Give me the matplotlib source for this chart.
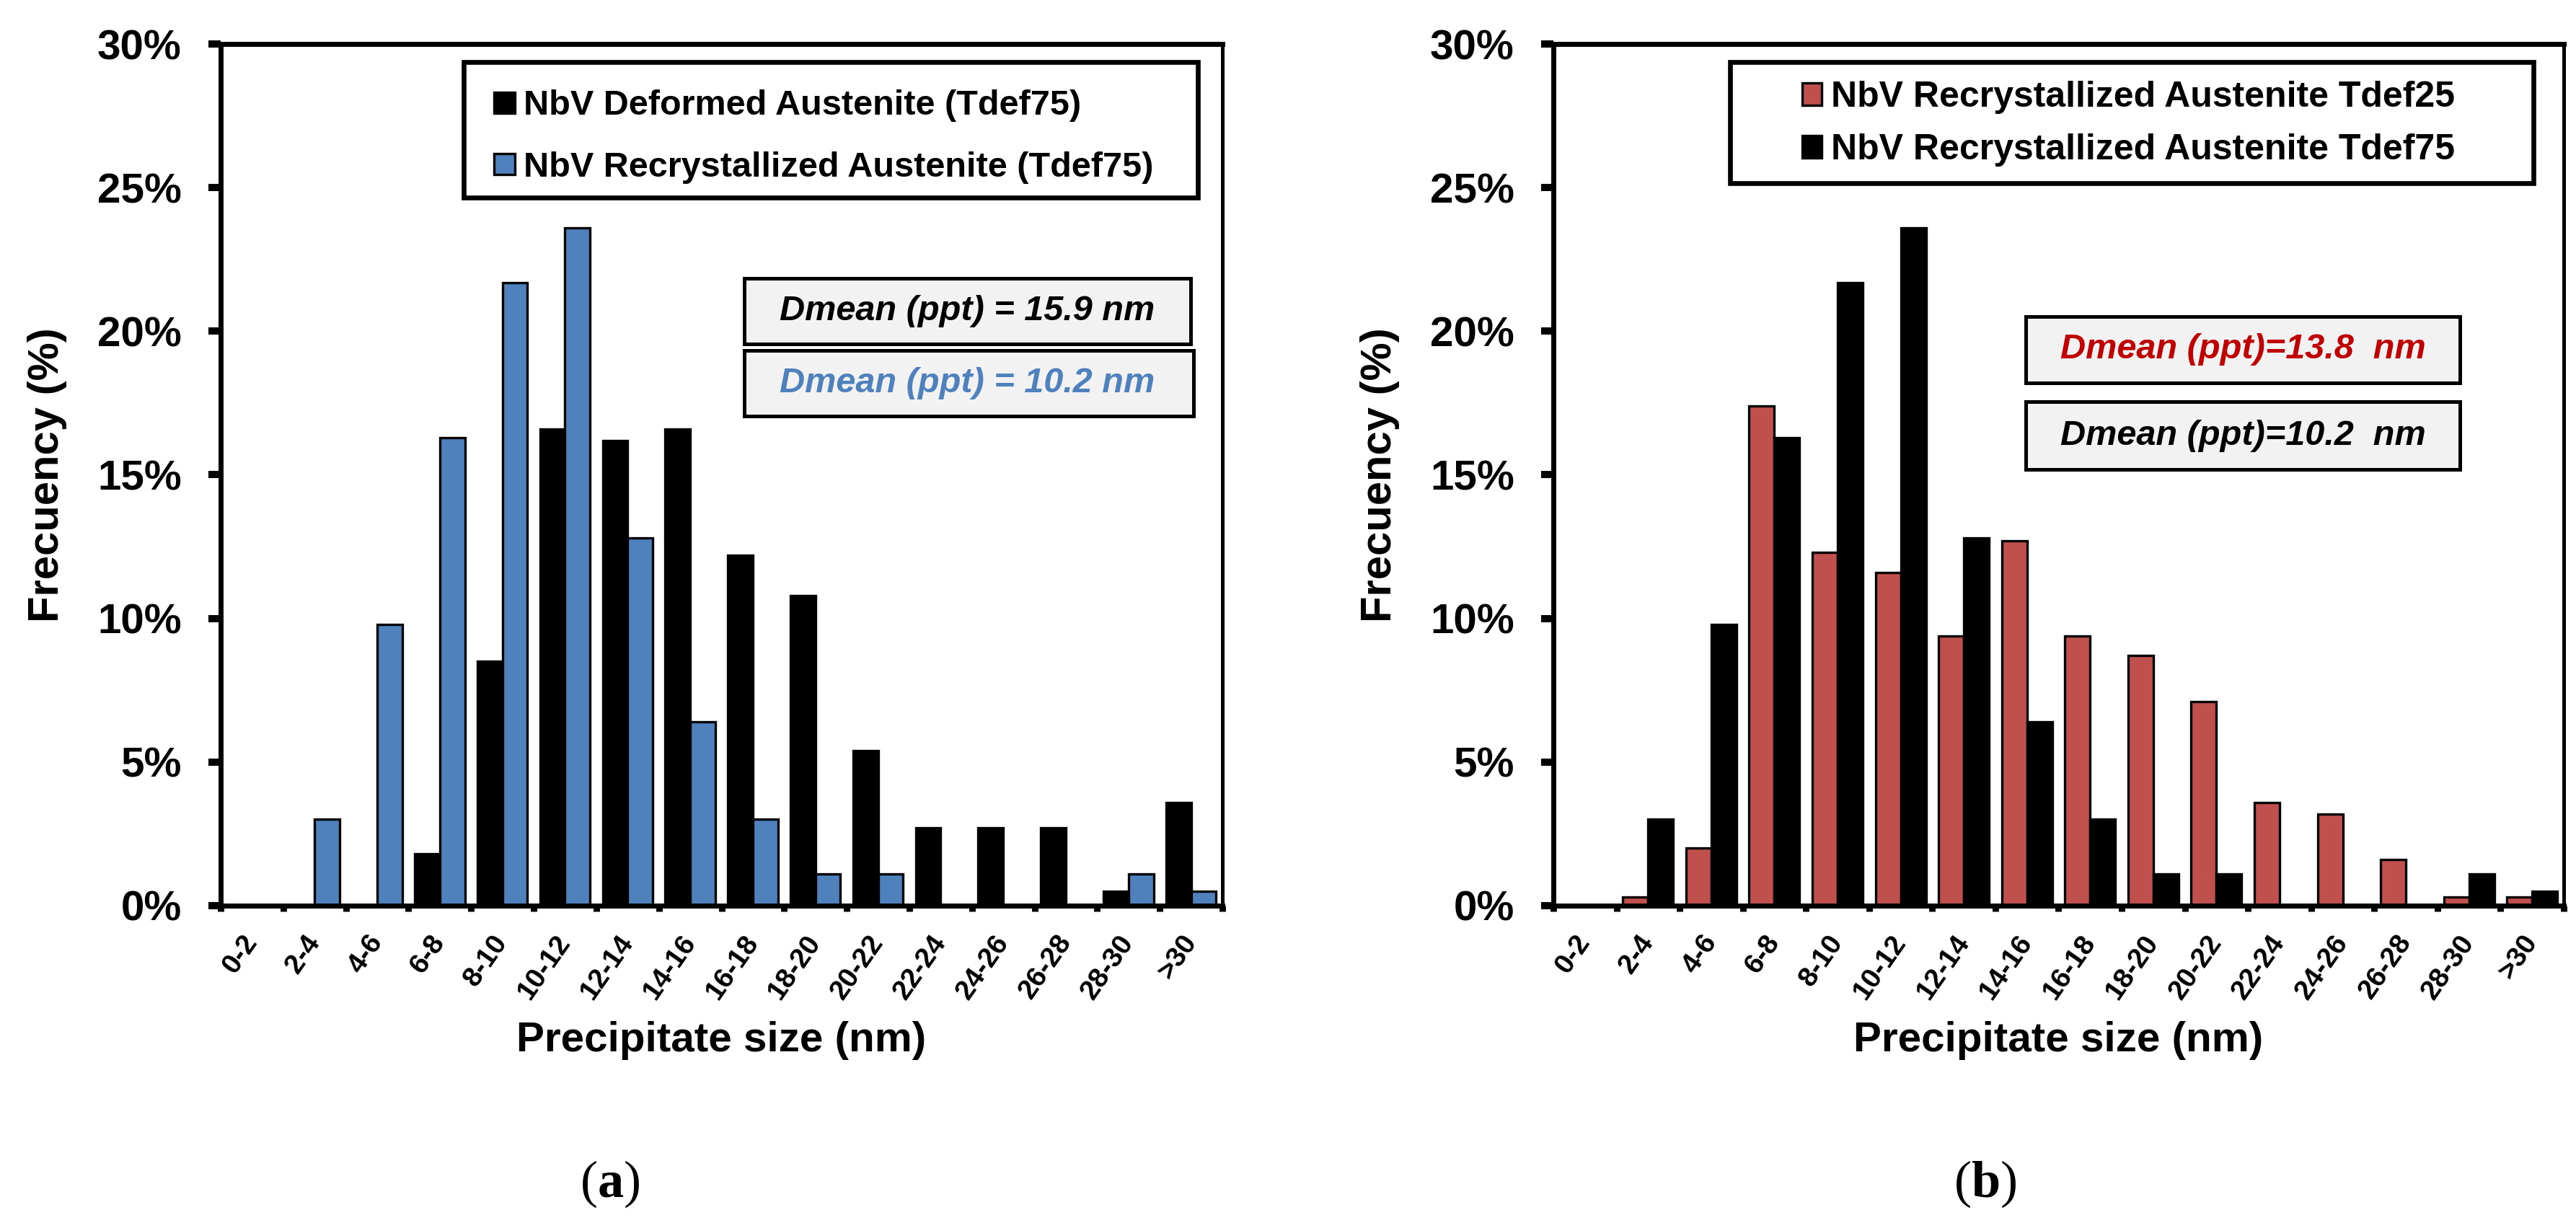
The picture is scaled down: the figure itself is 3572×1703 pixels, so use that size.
import matplotlib.pyplot as plt
from matplotlib.patches import Rectangle, Patch
import numpy as np

plt.rcParams['font.family'] = ['Liberation Sans', 'DejaVu Sans']
plt.rcParams['mathtext.fontset'] = 'custom'
plt.rcParams['mathtext.rm'] = 'Liberation Serif'
plt.rcParams['mathtext.bf'] = 'Liberation Serif:bold'

# --- data (frequency in %) ---
size_bins = ['0-2', '2-4', '4-6', '6-8', '8-10', '10-12', '12-14', '14-16',
             '16-18', '18-20', '20-22', '22-24', '24-26', '26-28', '28-30', '>30']
deformed_t75 = [0, 0, 0, 1.8, 8.5, 16.6, 16.2, 16.6, 12.2, 10.8, 5.4, 2.7, 2.7, 2.7, 0.5, 3.6]
recryst_t75 = [0, 3.0, 9.8, 16.3, 21.7, 23.6, 12.8, 6.4, 3.0, 1.1, 1.1, 0, 0, 0, 1.1, 0.5]
recryst_t25 = [0, 0.3, 2.0, 17.4, 12.3, 11.6, 9.4, 12.7, 9.4, 8.7, 7.1, 3.6, 3.2, 1.6, 0.3, 0.3]
yticks = [0, 5, 10, 15, 20, 25, 30]
ytick_labels = ['0%', '5%', '10%', '15%', '20%', '25%', '30%']

BLUE = '#4F81BD'
RED = '#C0504D'
DARKRED = '#C00000'
BOXGREY = '#F2F2F2'


def draw_panel(ax, left_vals, right_vals, left_color, right_color, labels,
               legend_anchor, legend_frame, legend_size, handle_size, legend_spacing,
               notes, note_boxes, note_xc):
    x = np.arange(len(size_bins)) + 0.5
    w = 0.4
    ax.bar(x - w / 2, left_vals, w, color=left_color, edgecolor='black',
           linewidth=1.2, zorder=2)
    ax.bar(x + w / 2, right_vals, w, color=right_color, edgecolor='black',
           linewidth=1.2, zorder=2)

    ax.set_xlim(0, len(size_bins))
    ax.set_ylim(0, 30)

    # axes frame
    for sp in ax.spines.values():
        sp.set_linewidth(2.5)
        sp.set_capstyle('projecting')
        sp.set_zorder(5)
    ax.spines['right'].set_linewidth(1.8)

    ax.set_yticks(yticks, ytick_labels, fontweight='bold')
    ax.tick_params(axis='y', direction='out', length=6, width=3.6, pad=13.5,
                   labelsize=21)
    # labels at bin centres, tick marks at bin edges
    ax.set_xticks(x, size_bins, rotation=55, ha='right', va='center',
                  rotation_mode='anchor', fontweight='bold')
    ax.set_xticks(np.arange(len(size_bins) + 1), minor=True)
    ax.tick_params(axis='x', which='major', length=0, pad=16, labelsize=14)
    ax.tick_params(axis='x', which='minor', direction='out', length=2.9, width=3.2)

    ax.set_xlabel('Precipitate size (nm)', fontsize=21, fontweight='bold', va='center')
    ax.xaxis.set_label_coords(0.5, -0.1565)
    ax.set_ylabel('Frecuency (%)', fontsize=21.5, fontweight='bold', va='center')

    # legend
    handles = [Patch(facecolor=left_color, edgecolor='black', linewidth=1.2),
               Patch(facecolor=right_color, edgecolor='black', linewidth=1.2)]
    ax.legend(handles, labels, loc='upper left', bbox_to_anchor=legend_anchor,
              frameon=False, borderpad=0, borderaxespad=0,
              handlelength=handle_size[0], handleheight=handle_size[1],
              handletextpad=0.25, labelspacing=legend_spacing,
              prop={'family': 'Liberation Sans', 'weight': 'bold', 'size': legend_size})
    fx0, fy0, fx1, fy1 = legend_frame
    ax.add_patch(Rectangle((fx0, fy0), fx1 - fx0, fy1 - fy0, transform=ax.transAxes,
                           fill=False, edgecolor='black', linewidth=2.4,
                           clip_on=False, zorder=6))

    # mean size boxes
    for (txt, col), (bx0, by0, bx1, by1) in zip(notes, note_boxes):
        ax.add_patch(Rectangle((bx0, by0), bx1 - bx0, by1 - by0, transform=ax.transAxes,
                               facecolor=BOXGREY, edgecolor='black', linewidth=1.8,
                               zorder=6))
        ax.text(note_xc, (by0 + by1) / 2, txt, transform=ax.transAxes, color=col,
                fontsize=17.5, fontweight='bold', fontstyle='italic',
                ha='center', va='center', zorder=7)


fig = plt.figure(figsize=(17.86, 8.515), dpi=200)
ax1 = fig.add_axes([0.08567, 0.26248, 0.38886, 0.70170])
ax2 = fig.add_axes([0.60302, 0.26248, 0.39222, 0.70170])

draw_panel(ax1, deformed_t75, recryst_t75, 'black', BLUE,
           ['NbV Deformed Austenite (Tdef75)', 'NbV Recrystallized Austenite (Tdef75)'],
           legend_anchor=(0.2729, 0.947), legend_frame=(0.2426, 0.8218, 0.9755, 0.9791),
           legend_size=17.5, handle_size=(0.6, 0.54), legend_spacing=0.84,
           notes=[('Dmean (ppt) = 15.9 nm', 'black'), ('Dmean (ppt) = 10.2 nm', BLUE)],
           note_boxes=[(0.5227, 0.6519, 0.9683, 0.7280), (0.5227, 0.5682, 0.9712, 0.6444)],
           note_xc=0.7455)
ax1.yaxis.set_label_coords(-0.1728, 0.5)

draw_panel(ax2, recryst_t25, recryst_t75, RED, 'black',
           ['NbV Recrystallized Austenite Tdef25', 'NbV Recrystallized Austenite Tdef75'],
           legend_anchor=(0.2463, 0.957), legend_frame=(0.1749, 0.8385, 0.9700, 0.9791),
           legend_size=18, handle_size=(0.54, 0.58), legend_spacing=0.54,
           notes=[('Dmean (ppt)=13.8  nm', DARKRED), ('Dmean (ppt)=10.2  nm', 'black')],
           note_boxes=[(0.4675, 0.6067, 0.8972, 0.6837), (0.4675, 0.5063, 0.8972, 0.5849)],
           note_xc=0.6824)
ax2.yaxis.set_label_coords(-0.1713, 0.5)

fig.text(0.2368, 0.0358, r'$\mathrm{(}\mathbf{a}\mathrm{)}$', fontsize=26,
         ha='center', va='center')
fig.text(0.7705, 0.0358, r'$\mathrm{(}\mathbf{b}\mathrm{)}$', fontsize=26,
         ha='center', va='center')

fig.savefig('out.png', dpi=200)
